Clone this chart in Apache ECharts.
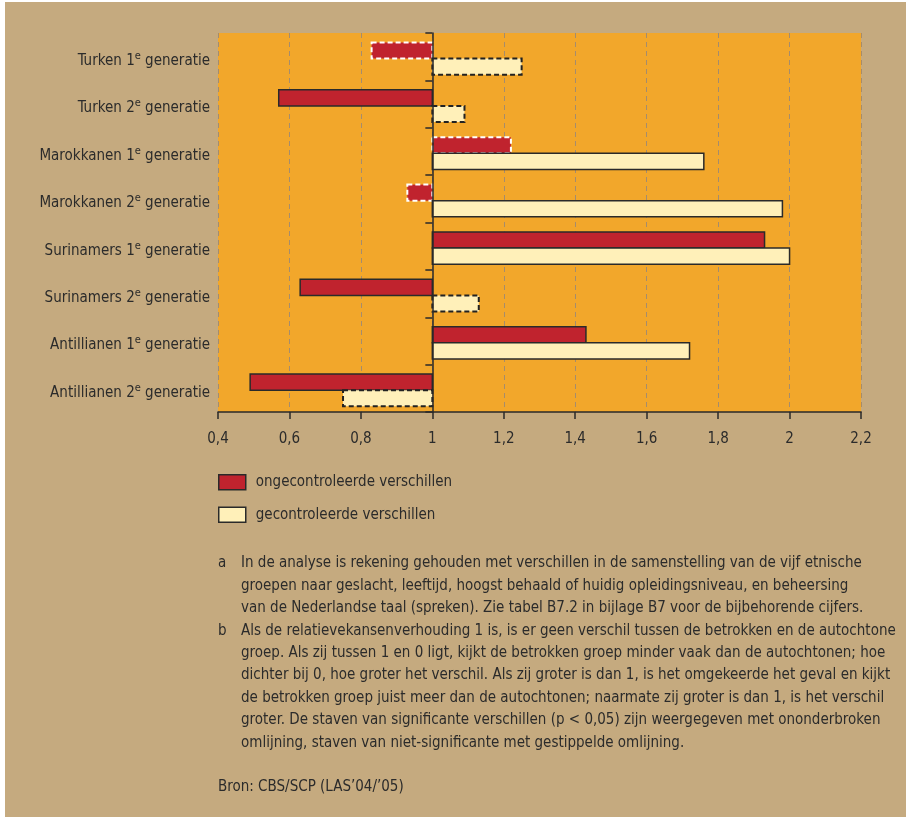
<!DOCTYPE html>
<html>
<head>
<meta charset="utf-8">
<script src="https://cdn.jsdelivr.net/npm/echarts@6/dist/echarts.min.js"></script>
<style>
html,body{margin:0;padding:0;background:#ffffff;}
#chart{width:906px;height:817px;}
</style>
</head>
<body>
<div id="chart"></div>
<script>
var categories = ['Turken 1e generatie','Turken 2e generatie','Marokkanen 1e generatie','Marokkanen 2e generatie','Surinamers 1e generatie','Surinamers 2e generatie','Antillianen 1e generatie','Antillianen 2e generatie'];
var ongecontroleerd = [0.83, 0.57, 1.22, 0.93, 1.93, 0.63, 1.43, 0.49];
var gecontroleerd   = [1.25, 1.09, 1.76, 1.98, 2.00, 1.13, 1.72, 0.75];
var sigOngecontroleerd = [false, true, false, false, true, true, true, true];
var sigGecontroleerd   = [false, false, true, true, true, false, true, false];
var xTicks = [0.4, 0.6, 0.8, 1, 1.2, 1.4, 1.6, 1.8, 2, 2.2];
var seriesNames = ['ongecontroleerde verschillen', 'gecontroleerde verschillen'];
var footA = [
  'In de analyse is rekening gehouden met verschillen in de samenstelling van de vijf etnische',
  'groepen naar geslacht, leeftijd, hoogst behaald of huidig opleidingsniveau, en beheersing',
  'van de Nederlandse taal (spreken). Zie tabel B7.2 in bijlage B7 voor de bijbehorende cijfers.'
];
var footB = [
  'Als de relatievekansenverhouding 1 is, is er geen verschil tussen de betrokken en de autochtone',
  'groep. Als zij tussen 1 en 0 ligt, kijkt de betrokken groep minder vaak dan de autochtonen; hoe',
  'dichter bij 0, hoe groter het verschil. Als zij groter is dan 1, is het omgekeerde het geval en kijkt',
  'de betrokken groep juist meer dan de autochtonen; naarmate zij groter is dan 1, is het verschil',
  'groter. De staven van significante verschillen (p < 0,05) zijn weergegeven met ononderbroken',
  'omlijning, staven van niet-significante met gestippelde omlijning.'
];
var bron = 'Bron: CBS/SCP (LAS\u201904/\u201905)';

var FONT = '"Liberation Sans Narrow", "DejaVu Sans Condensed", "Liberation Sans", sans-serif';
var FS = 15;
var TXT = '#2b2b2b';
var RED = '#c0232e', CREAM = '#fff0b9', ORANGE = '#f2a72b', TAN = '#c5aa7f';
var xMin = 0.4, xMax = 2.2, baseVal = 1;
var gridLeft = 218, gridTop = 33, gridWidth = 643, gridHeight = 379;

function makeRender(sig, fill, dashColor, upper) {
  return function (params, api) {
    var i = api.value(1), v = api.value(0);
    var p0 = api.coord([baseVal, i]);
    var p1 = api.coord([v, i]);
    var band = api.size([0, 1])[1];
    var h = band * 0.34;
    var cy = p0[1] + band * 0.04;
    var y = upper ? cy - h : cy;
    var x = Math.min(p0[0], p1[0]);
    var w = Math.abs(p1[0] - p0[0]);
    var s = sig[params.dataIndex];
    return {
      type: 'rect',
      shape: { x: x, y: y, width: w, height: h },
      style: {
        fill: fill,
        stroke: s ? '#2a2a2a' : dashColor,
        lineWidth: s ? 1.5 : 2,
        lineDash: s ? null : [5, 3]
      }
    };
  };
}

function toData(vals) { return vals.map(function (v, i) { return [v, i]; }); }

function labelFmt(v) {
  var m = v.match(/^(.*\d)e (generatie)$/);
  if (m) return '{n|' + m[1] + '}{s|e}{n| ' + m[2] + '}';
  return '{n|' + v + '}';
}

var graphics = [
  { type: 'rect', left: 5, top: 2, shape: { width: 901, height: 815 }, style: { fill: TAN }, z: -20, silent: true }
];
var lh = 22.4;
var ft = FS + 'px ' + FONT;
var fTop = 556;
graphics.push({ type: 'text', left: 218, top: fTop, style: { text: 'a', font: ft, fill: TXT } });
footA.forEach(function (t, k) {
  graphics.push({ type: 'text', left: 241, top: fTop + k * lh, style: { text: t, font: ft, fill: TXT } });
});
graphics.push({ type: 'text', left: 218, top: fTop + 3 * lh, style: { text: 'b', font: ft, fill: TXT } });
footB.forEach(function (t, k) {
  graphics.push({ type: 'text', left: 241, top: fTop + (3 + k) * lh, style: { text: t, font: ft, fill: TXT } });
});
graphics.push({ type: 'text', left: 218, top: 780, style: { text: bron, font: ft, fill: TXT } });

var chart = echarts.init(document.getElementById('chart'));
chart.setOption({
  backgroundColor: '#ffffff',
  animation: false,
  textStyle: { fontFamily: FONT },
  grid: {
    left: gridLeft, top: gridTop, width: gridWidth, height: gridHeight,
    show: true, backgroundColor: ORANGE, borderWidth: 0
  },
  legend: {
    orient: 'vertical', left: 218, top: 474, itemWidth: 27, itemHeight: 15, itemGap: 16,
    icon: 'rect', padding: 0,
    textStyle: { fontSize: FS, color: TXT, fontFamily: FONT, padding: [0, 0, 0, 5] },
    data: [
      { name: seriesNames[0], itemStyle: { color: RED, borderColor: '#2a2a2a', borderWidth: 1.5 } },
      { name: seriesNames[1], itemStyle: { color: CREAM, borderColor: '#2a2a2a', borderWidth: 1.5 } }
    ]
  },
  xAxis: {
    type: 'value', min: xMin, max: xMax, interval: 0.2,
    axisLine: { show: true, lineStyle: { color: '#2a2a2a', width: 1.5 } },
    axisTick: { show: true, length: 7, lineStyle: { color: '#2a2a2a', width: 1.5 } },
    axisLabel: {
      fontSize: FS, color: TXT, margin: 20, fontFamily: FONT,
      formatter: function (v) { return String(Math.round(v * 10) / 10).replace('.', ','); }
    },
    splitLine: { show: true, lineStyle: { color: '#a58c6c', type: [5, 4], width: 1 } }
  },
  yAxis: [
    {
      type: 'category', data: categories, inverse: true,
      axisLine: { show: false }, axisTick: { show: false },
      axisLabel: {
        margin: 8, color: TXT, fontFamily: FONT,
        padding: [6, 0, 0, 0],
        formatter: labelFmt,
        rich: {
          n: { fontSize: FS, color: TXT, fontFamily: FONT, verticalAlign: 'bottom', lineHeight: 18 },
          s: { fontSize: 11, color: TXT, fontFamily: FONT, verticalAlign: 'top', lineHeight: 18, padding: [0, 0, 4, 0] }
        }
      }
    },
    {
      type: 'category', data: categories, inverse: true, position: 'left',
      offset: -gridWidth * (baseVal - xMin) / (xMax - xMin),
      axisLine: { show: true, lineStyle: { color: '#2a2a2a', width: 1.5 } },
      axisTick: { show: true, length: 7, lineStyle: { color: '#2a2a2a', width: 1.5 } },
      axisLabel: { show: false },
      z: 10
    }
  ],
  series: [
    {
      name: seriesNames[0], type: 'custom', yAxisIndex: 0,
      itemStyle: { color: RED },
      encode: { x: 0, y: 1 },
      renderItem: makeRender(sigOngecontroleerd, RED, '#ffffff', true),
      data: toData(ongecontroleerd), z: 3
    },
    {
      name: seriesNames[1], type: 'custom', yAxisIndex: 0,
      itemStyle: { color: CREAM },
      encode: { x: 0, y: 1 },
      renderItem: makeRender(sigGecontroleerd, CREAM, '#222222', false),
      data: toData(gecontroleerd), z: 3
    }
  ],
  graphic: graphics
});
</script>
</body>
</html>
